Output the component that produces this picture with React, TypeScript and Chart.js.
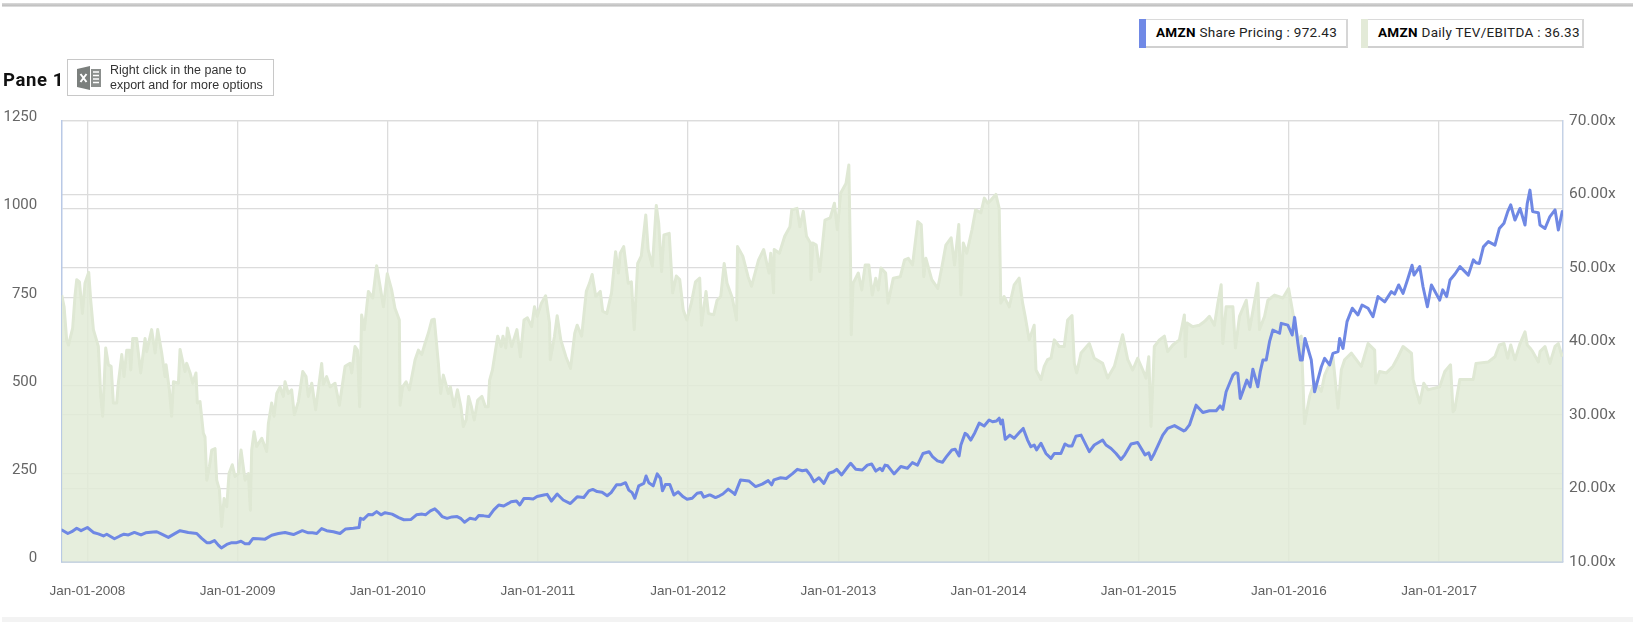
import React, { useEffect, useRef } from "react";
import { Chart, registerables } from "chart.js";

Chart.register(...registerables);

const yearTicks = [2008, 2009, 2010, 2011, 2012, 2013, 2014, 2015, 2016, 2017];
const priceTicks = [0, 250, 500, 750, 1000, 1250];
const multipleTicks = [10, 20, 30, 40, 50, 60, 70];

const priceYears = [
  2007.83, 2007.87, 2007.896, 2007.929, 2007.958, 2008.0, 2008.04, 2008.073, 2008.107, 2008.129, 2008.18, 2008.217, 2008.244, 2008.273, 2008.313, 2008.357, 2008.388, 2008.439, 2008.462, 2008.495, 2008.539, 2008.579, 2008.617, 2008.672, 2008.728, 2008.761, 2008.795, 2008.817, 2008.846, 2008.872, 2008.892, 2008.928, 2008.961, 2008.994, 2009.023, 2009.05, 2009.076, 2009.103, 2009.139, 2009.183, 2009.227, 2009.272, 2009.316, 2009.372, 2009.431, 2009.471, 2009.498, 2009.527, 2009.56, 2009.593, 2009.638, 2009.682, 2009.72, 2009.771, 2009.809, 2009.818, 2009.838, 2009.871, 2009.898, 2009.926, 2009.955, 2009.982,
  2010.029, 2010.073, 2010.107, 2010.155, 2010.191, 2010.229, 2010.251, 2010.284, 2010.313, 2010.34, 2010.362, 2010.395, 2010.428, 2010.462, 2010.488, 2010.511, 2010.546, 2010.584, 2010.606, 2010.639, 2010.673, 2010.706, 2010.739, 2010.772, 2010.806, 2010.821, 2010.857, 2010.879, 2010.906, 2010.939, 2010.968, 2010.994, 2011.039, 2011.061, 2011.09, 2011.128, 2011.168, 2011.216, 2011.261, 2011.305, 2011.339, 2011.365, 2011.394, 2011.427, 2011.461, 2011.487, 2011.523, 2011.549, 2011.583, 2011.605, 2011.627, 2011.645, 2011.671, 2011.705, 2011.72, 2011.738, 2011.767, 2011.794, 2011.816, 2011.829, 2011.849, 2011.878, 2011.905, 2011.933, 2011.967, 2011.993, 2012.027, 2012.06, 2012.087, 2012.104, 2012.138,
  2012.149, 2012.182, 2012.209, 2012.231, 2012.267, 2012.304, 2012.311, 2012.349, 2012.404, 2012.449, 2012.493, 2012.533, 2012.556, 2012.571, 2012.616, 2012.653, 2012.693, 2012.727, 2012.76, 2012.787, 2012.816, 2012.838, 2012.871, 2012.904, 2012.938, 2012.967, 2012.989, 2013.022, 2013.064, 2013.082, 2013.116, 2013.16, 2013.193, 2013.222, 2013.249, 2013.278, 2013.293, 2013.311, 2013.329, 2013.371, 2013.416, 2013.46, 2013.493, 2013.527, 2013.564, 2013.604, 2013.627, 2013.66, 2013.693, 2013.72, 2013.756, 2013.778, 2013.804, 2013.816, 2013.844, 2013.856, 2013.882, 2013.909, 2013.938, 2013.971, 2014.004, 2014.027, 2014.053, 2014.071, 2014.082, 2014.093, 2014.111, 2014.142, 2014.171, 2014.211, 2014.231,
  2014.26, 2014.282, 2014.304, 2014.32, 2014.349, 2014.382, 2014.416, 2014.438, 2014.482, 2014.509, 2014.533, 2014.556, 2014.582, 2014.616, 2014.671, 2014.704, 2014.76, 2014.782, 2014.816, 2014.849, 2014.882, 2014.907, 2014.949, 2014.993, 2015.042, 2015.067, 2015.082, 2015.104, 2015.16, 2015.193, 2015.238, 2015.3, 2015.311, 2015.338, 2015.382, 2015.427, 2015.471, 2015.516, 2015.542, 2015.56, 2015.582, 2015.627, 2015.644, 2015.66, 2015.676, 2015.72, 2015.742, 2015.76, 2015.793, 2015.809, 2015.827, 2015.849, 2015.871, 2015.893, 2015.938, 2015.949, 2015.993, 2016.022, 2016.038, 2016.06, 2016.076, 2016.089, 2016.107, 2016.149, 2016.171, 2016.216, 2016.238, 2016.271, 2016.293, 2016.327, 2016.338, 2016.36, 2016.387, 2016.422, 2016.46, 2016.487, 2016.527, 2016.56, 2016.593, 2016.638, 2016.682, 2016.704, 2016.731, 2016.76, 2016.793, 2016.82, 2016.833, 2016.871, 2016.893, 2016.922, 2016.949, 2017.004,
  2017.024, 2017.05, 2017.073, 2017.106, 2017.139, 2017.195, 2017.228, 2017.246, 2017.268, 2017.295, 2017.328, 2017.372, 2017.401, 2017.432, 2017.457, 2017.477, 2017.505, 2017.539, 2017.572, 2017.587, 2017.605, 2017.623, 2017.661, 2017.672, 2017.705, 2017.738, 2017.772, 2017.794, 2017.82,
];

const priceValues = [
  90, 80, 85, 95, 88, 97, 83, 79, 73, 78, 65, 73, 78, 76, 83, 76, 82, 84, 85, 78, 69, 79, 88, 83, 80, 66, 54, 54, 60, 47, 39, 49, 54, 54, 58, 51, 51, 66, 65, 64, 75, 80, 83, 77, 88, 82, 82, 80, 94, 88, 85, 80, 93, 95, 97, 123, 120, 134, 133, 142, 133, 139,
  135, 125, 119, 120, 133, 135, 133, 144, 150, 139, 128, 123, 127, 128, 122, 112, 123, 120, 131, 130, 128, 147, 161, 158, 166, 170, 172, 161, 179, 179, 178, 185, 189, 191, 172, 192, 175, 165, 184, 182, 201, 205, 199, 197, 187, 196, 218, 218, 224, 203, 196, 180, 215, 222, 243, 224, 215, 249, 236, 201, 219, 219, 189, 198, 184, 177, 180, 194, 196, 183, 189,
  189, 182, 187, 192, 206, 194, 191, 232, 229, 213, 220, 230, 218, 232, 238, 236, 249, 262, 258, 260, 244, 227, 238, 222, 251, 255, 262, 246, 270, 279, 262, 260, 274, 277, 257, 265, 258, 274, 272, 249, 270, 265, 281, 274, 307, 312, 298, 286, 282, 298, 317, 319, 300, 331, 364, 361, 345, 366, 393, 385, 402, 397, 399, 407, 391, 402, 347, 359, 350, 369, 378, 345, 326,
  331, 317, 336, 307, 293, 307, 307, 334, 328, 328, 356, 359, 312, 331, 345, 331, 321, 307, 290, 303, 334, 338, 303, 309, 290, 307, 359, 378, 386, 371, 373, 388, 444, 423, 428, 428, 442, 432, 482, 529, 536, 534, 463, 515, 496, 546, 496, 539, 572, 572, 624, 657, 648, 676, 671, 643, 693, 619, 572, 572, 633, 572, 482, 553, 577, 558, 591, 596, 633, 605, 681, 719, 700, 728, 719, 695, 752, 737, 766, 759, 785, 761, 804, 841, 813, 837, 780, 723, 785, 742, 771, 752,
  799, 816, 837, 813, 856, 848, 846, 893, 908, 898, 945, 960, 993, 1012, 969, 1002, 955, 1016, 1054, 993, 990, 955, 945, 979, 998, 941, 993, 1009, 972,
];

const multipleYears = [
  2007.829, 2007.845, 2007.862, 2007.874, 2007.902, 2007.918, 2007.929, 2007.947, 2007.967, 2007.984, 2008.009, 2008.022, 2008.04, 2008.073, 2008.089, 2008.102, 2008.122, 2008.14, 2008.158, 2008.173, 2008.195, 2008.206, 2008.229, 2008.244, 2008.262, 2008.28, 2008.289, 2008.302, 2008.328, 2008.355, 2008.384, 2008.395, 2008.428, 2008.451, 2008.468, 2008.495, 2008.517, 2008.524, 2008.546, 2008.561, 2008.573, 2008.606, 2008.617, 2008.632, 2008.65, 2008.661, 2008.684, 2008.701, 2008.723, 2008.732, 2008.75, 2008.772, 2008.783, 2008.795, 2008.812, 2008.828, 2008.85, 2008.861, 2008.879, 2008.894, 2008.91, 2008.928, 2008.943, 2008.965, 2008.983,
  2009.005, 2009.023, 2009.05, 2009.072, 2009.085, 2009.094, 2009.11, 2009.127, 2009.161, 2009.194, 2009.205, 2009.227, 2009.243, 2009.261, 2009.283, 2009.305, 2009.316, 2009.338, 2009.36, 2009.378, 2009.405, 2009.434, 2009.456, 2009.471, 2009.494, 2009.52, 2009.56, 2009.571, 2009.593, 2009.616, 2009.649, 2009.678, 2009.716, 2009.749, 2009.76, 2009.782, 2009.798, 2009.813, 2009.826, 2009.844, 2009.871, 2009.9, 2009.926, 2009.949, 2009.971, 2009.997,
  2010.026, 2010.048, 2010.077, 2010.082, 2010.099, 2010.122, 2010.144, 2010.182, 2010.204, 2010.226, 2010.248, 2010.27, 2010.293, 2010.31, 2010.337, 2010.352, 2010.37, 2010.404, 2010.417, 2010.441, 2010.464, 2010.487, 2010.503, 2010.522, 2010.538, 2010.557, 2010.576, 2010.599, 2010.627, 2010.65, 2010.669, 2010.678, 2010.697, 2010.732, 2010.755, 2010.767, 2010.786, 2010.797, 2010.825, 2010.86, 2010.883, 2010.907, 2010.93, 2010.958, 2010.977, 2010.995,
  2011.023, 2011.051, 2011.077, 2011.082, 2011.11, 2011.128, 2011.152, 2011.186, 2011.217, 2011.245, 2011.261, 2011.291, 2011.322, 2011.343, 2011.361, 2011.385, 2011.415, 2011.431, 2011.459, 2011.49, 2011.517, 2011.536, 2011.548, 2011.571, 2011.601, 2011.622, 2011.641, 2011.664, 2011.688, 2011.718, 2011.734, 2011.762, 2011.788, 2011.804, 2011.823, 2011.839, 2011.874, 2011.897, 2011.921, 2011.944, 2011.967, 2011.991,
  2012.021, 2012.049, 2012.077, 2012.089, 2012.119, 2012.135, 2012.17, 2012.193, 2012.217, 2012.24, 2012.259, 2012.294, 2012.322, 2012.329, 2012.364, 2012.399, 2012.422, 2012.469, 2012.503, 2012.538, 2012.55, 2012.569, 2012.573, 2012.608, 2012.643, 2012.678, 2012.69, 2012.725, 2012.744, 2012.767, 2012.788, 2012.814, 2012.818, 2012.83, 2012.853, 2012.876, 2012.911, 2012.946, 2012.974, 2012.993,
  2013.016, 2013.051, 2013.07, 2013.082, 2013.086, 2013.098, 2013.133, 2013.156, 2013.179, 2013.203, 2013.226, 2013.249, 2013.266, 2013.284, 2013.315, 2013.331, 2013.366, 2013.413, 2013.441, 2013.466, 2013.494, 2013.529, 2013.552, 2013.569, 2013.583, 2013.622, 2013.662, 2013.692, 2013.716, 2013.751, 2013.774, 2013.802, 2013.816, 2013.832, 2013.855, 2013.89, 2013.914, 2013.949, 2013.972, 2013.995,
  2014.019, 2014.049, 2014.071, 2014.082, 2014.104, 2014.138, 2014.171, 2014.204, 2014.227, 2014.244, 2014.271, 2014.304, 2014.316, 2014.349, 2014.371, 2014.393, 2014.416, 2014.438, 2014.471, 2014.504, 2014.527, 2014.556, 2014.571, 2014.587, 2014.616, 2014.671, 2014.704, 2014.76, 2014.793, 2014.838, 2014.893, 2014.927, 2014.96, 2014.993,
  2015.027, 2015.049, 2015.067, 2015.082, 2015.104, 2015.138, 2015.171, 2015.193, 2015.227, 2015.271, 2015.304, 2015.311, 2015.322, 2015.36, 2015.404, 2015.438, 2015.471, 2015.504, 2015.527, 2015.549, 2015.56, 2015.582, 2015.627, 2015.644, 2015.671, 2015.716, 2015.738, 2015.793, 2015.804, 2015.838, 2015.86, 2015.904, 2015.96, 2015.998,
  2016.027, 2016.06, 2016.082, 2016.104, 2016.138, 2016.171, 2016.216, 2016.238, 2016.293, 2016.327, 2016.349, 2016.371, 2016.416, 2016.482, 2016.527, 2016.571, 2016.578, 2016.604, 2016.649, 2016.693, 2016.727, 2016.76, 2016.816, 2016.827, 2016.871, 2016.898, 2016.927,
  2017.004, 2017.038, 2017.076, 2017.093, 2017.104, 2017.138, 2017.227, 2017.246, 2017.328, 2017.372, 2017.401, 2017.432, 2017.457, 2017.477, 2017.505, 2017.539, 2017.572, 2017.587, 2017.605, 2017.623, 2017.661, 2017.672, 2017.705, 2017.738, 2017.772, 2017.794, 2017.82,
];

const multipleValues = [
  46.3, 44.7, 40.2, 39.5, 41.8, 46.3, 48.4, 48.1, 43.8, 47.9, 49.4, 45.6, 41.6, 39.3, 32.5, 29.8, 39.1, 36.8, 36.6, 31.6, 31.6, 34.3, 38.2, 35.2, 38.8, 38.8, 36.1, 40.4, 40.4, 35.7, 40.4, 38.6, 41.6, 38.4, 41.6, 38.4, 35.2, 36.8, 33.4, 29.8, 34.5, 34.3, 38.9, 37.5, 35.9, 37.0, 35.7, 34.3, 35.7, 31.6, 31.8, 27.5, 27.0, 21.1, 22.9, 25.2, 25.4, 21.1, 19.8, 14.8, 18.6, 17.5, 22.0, 23.2, 21.6,
  22.0, 25.2, 21.1, 22.0, 17.0, 25.2, 27.7, 25.7, 26.8, 25.0, 28.8, 31.6, 29.8, 32.9, 33.8, 32.5, 34.5, 32.9, 33.4, 30.0, 31.8, 35.9, 35.2, 32.5, 34.3, 30.7, 37.0, 34.1, 35.2, 33.8, 34.3, 31.3, 36.6, 37.0, 35.7, 39.3, 38.8, 31.1, 43.6, 41.6, 46.8, 45.9, 50.3, 47.5, 44.7, 49.2,
  47.0, 44.5, 42.9, 31.3, 33.8, 34.5, 33.4, 37.5, 38.8, 38.2, 39.7, 41.1, 42.9, 43.0, 37.0, 32.9, 35.4, 32.9, 33.8, 31.1, 33.4, 31.1, 28.4, 29.3, 32.5, 31.1, 29.3, 32.0, 32.5, 31.1, 31.1, 34.7, 36.1, 40.7, 39.3, 40.7, 39.1, 41.8, 39.3, 41.6, 37.9, 42.9, 43.2, 42.0, 44.7, 43.4,
  45.2, 46.2, 42.5, 37.5, 40.7, 43.5, 40.2, 37.9, 36.3, 41.1, 42.2, 40.7, 46.8, 47.9, 49.1, 46.1, 46.8, 44.1, 43.8, 46.6, 52.2, 49.3, 52.0, 52.9, 47.9, 48.1, 41.6, 50.6, 51.6, 57.2, 52.5, 50.2, 58.5, 56.1, 49.5, 54.5, 54.7, 46.6, 48.9, 48.4, 44.3, 42.9,
  45.2, 48.1, 48.6, 42.2, 46.8, 43.8, 43.6, 45.6, 46.1, 50.6, 47.9, 45.9, 42.9, 52.9, 51.6, 48.8, 47.5, 51.1, 52.5, 49.3, 52.0, 46.6, 52.5, 52.0, 54.3, 55.6, 57.9, 58.1, 55.6, 57.7, 54.3, 53.4, 48.4, 53.4, 53.1, 49.5, 56.5, 56.8, 58.8, 55.2,
  60.2, 61.5, 64.0, 49.7, 40.9, 47.9, 49.3, 47.0, 50.4, 50.4, 46.3, 48.6, 47.0, 50.0, 49.3, 45.2, 48.6, 48.8, 51.1, 51.3, 50.4, 56.3, 55.9, 48.8, 51.3, 48.4, 47.2, 50.4, 53.1, 54.1, 50.4, 55.9, 46.3, 53.4, 52.0, 55.2, 57.9, 57.5, 59.5, 58.8,
  59.3, 60.0, 58.1, 45.2, 46.1, 44.7, 47.7, 48.6, 45.2, 43.4, 40.2, 42.2, 36.1, 34.8, 36.6, 37.5, 37.7, 40.2, 39.3, 39.3, 42.9, 43.5, 37.0, 35.7, 38.4, 39.7, 37.7, 37.0, 35.0, 36.6, 40.9, 37.5, 36.1, 37.7,
  36.1, 35.0, 37.9, 28.4, 39.3, 40.2, 40.7, 38.6, 39.5, 40.2, 43.6, 37.9, 42.5, 42.0, 42.2, 42.7, 43.4, 42.2, 45.2, 47.7, 39.7, 44.7, 44.7, 39.1, 43.4, 45.6, 41.6, 47.9, 41.6, 43.4, 45.6, 46.3, 45.9, 47.2,
  43.8, 40.2, 40.7, 28.8, 32.5, 34.5, 33.2, 35.4, 37.9, 30.9, 36.1, 37.5, 38.4, 36.6, 39.7, 38.8, 34.3, 35.9, 35.7, 36.6, 37.9, 39.3, 38.4, 34.8, 31.6, 34.3, 33.4,
  33.8, 35.9, 36.8, 30.4, 30.7, 34.8, 34.8, 37.0, 37.2, 37.9, 39.5, 39.7, 37.7, 39.5, 37.5, 39.7, 41.3, 39.5, 39.1, 38.6, 37.2, 38.6, 39.3, 37.0, 39.3, 39.7, 37.9,
];

const toPoints = (xs: number[], ys: number[]) => xs.map((x, i) => ({ x, y: ys[i] }));

const abs = (s: React.CSSProperties): React.CSSProperties => ({ position: "absolute", boxSizing: "border-box", ...s });

function LegendBox(props: { left: number; width: number; color: string; name: string; value: string }) {
  return (
    <div
      style={abs({
        left: props.left,
        top: 19,
        width: props.width,
        height: 29,
        background: "#fff",
        border: "1px solid #dadada",
        borderBottom: "2px solid #d0d0d0",
        borderRight: "2px solid #d6d6d6",
        fontFamily: "Roboto, sans-serif",
        fontSize: 13.5,
        letterSpacing: 0.3,
        lineHeight: "25px",
        color: "#222",
        whiteSpace: "nowrap",
        paddingLeft: 16,
      })}
    >
      <div style={abs({ left: -1, top: -1, width: 7, height: 29, background: props.color })} />
      <b style={{ color: "#000" }}>AMZN</b> {props.name} : {props.value}
    </div>
  );
}

export default function App() {
  const ref = useRef<HTMLCanvasElement>(null);

  useEffect(() => {
    document.body.style.margin = "0";
    const chart = new Chart(ref.current!, {
      type: "line",
      data: {
        datasets: [
          {
            label: "AMZN Share Pricing",
            data: toPoints(priceYears, priceValues),
            yAxisID: "yPrice",
            borderColor: "#6f88e4",
            borderWidth: 3,
            borderJoinStyle: "round",
            borderCapStyle: "round",
            pointRadius: 0,
            fill: false,
            tension: 0,
            order: 1,
          },
          {
            label: "AMZN Daily TEV/EBITDA",
            data: toPoints(multipleYears, multipleValues),
            yAxisID: "yMultiple",
            borderColor: "rgba(223,232,212,1)",
            backgroundColor: "rgba(225,235,215,0.84)",
            borderWidth: 3,
            borderJoinStyle: "round",
            pointRadius: 0,
            fill: "start",
            tension: 0,
            order: 2,
          },
        ],
      },
      options: {
        responsive: false,
        animation: false,
        layout: { padding: { top: 121, left: 0, right: 0, bottom: 0 } },
        plugins: { legend: { display: false }, tooltip: { enabled: false } },
        scales: {
          x: {
            type: "linear",
            min: 2007.829,
            max: 2017.825,
            afterBuildTicks: (axis: any) => {
              axis.ticks = yearTicks.map((value) => ({ value }));
            },
            afterFit: (axis: any) => {
              axis.height = 68.3;
            },
            grid: { color: "#dcdcdc", lineWidth: 1.3, drawTicks: false },
            border: { color: "#c9d5e2", width: 2 },
            ticks: {
              padding: 21,
              autoSkip: false,
              maxRotation: 0,
              color: "#5f5f5f",
              font: { family: "'Liberation Sans', Arial, sans-serif", size: 13.5 },
              callback: (v: any) => `Jan-01-${v}`,
            },
          },
          yPrice: {
            type: "linear",
            position: "left",
            min: 0,
            max: 1250,
            afterBuildTicks: (axis: any) => {
              axis.ticks = priceTicks.map((value) => ({ value }));
            },
            afterFit: (axis: any) => {
              axis.width = 61.7;
            },
            grid: { color: "#dcdcdc", lineWidth: 1.3, drawTicks: false },
            border: { color: "#b9c9e6", width: 1.5 },
            ticks: {
              padding: 24.5,
              color: "#666",
              font: { family: "Roboto, sans-serif", size: 15, lineHeight: "7px" },
              callback: (v: any) => [String(v), ""],
            },
          },
          yMultiple: {
            type: "linear",
            position: "right",
            min: 10,
            max: 70,
            afterBuildTicks: (axis: any) => {
              axis.ticks = multipleTicks.map((value) => ({ value }));
            },
            afterFit: (axis: any) => {
              axis.width = 70;
            },
            grid: { color: "#dcdcdc", lineWidth: 1.3, drawTicks: false },
            border: { color: "#c5d2e6", width: 1.5 },
            ticks: {
              padding: 6,
              color: "#666",
              font: { family: "Roboto, sans-serif", size: 15.5 },
              callback: (v: any) => `${Number(v).toFixed(2)}x`,
            },
          },
        },
      },
    } as any);
    return () => chart.destroy();
  }, []);

  return (
    <div style={abs({ left: 0, top: 0, width: 1633, height: 630, overflow: "hidden", background: "#fff" })}>
      <canvas ref={ref} width={1633} height={630} style={{ position: "absolute", left: 0, top: 0, width: 1633, height: 630 }} />
      <div style={abs({ left: 2, top: 3, width: 1631, height: 4, background: "linear-gradient(#dcdcdc,#c0c0c0 60%,#e8e8e8)" })} />
      <div style={abs({ left: 2, top: 617, width: 1631, height: 5, background: "#f3f3f3" })} />
      <LegendBox left={1139} width={209} color="#7089e6" name="Share Pricing" value="972.43" />
      <LegendBox left={1361} width={223} color="#e3ead8" name="Daily TEV/EBITDA" value="36.33" />
      <div
        style={abs({
          left: 3,
          top: 68,
          fontFamily: "Roboto, sans-serif",
          fontWeight: 700,
          fontSize: 18.5,
          letterSpacing: 0.6,
          lineHeight: "24px",
          color: "#111",
          whiteSpace: "nowrap",
        })}
      >
        Pane 1
      </div>
      <div style={abs({ left: 67, top: 59, width: 207, height: 37, border: "1px solid #c8c8c8", background: "#fff" })}>
        <svg width={24} height={24} viewBox="0 0 24 24" style={{ position: "absolute", left: 9, top: 6 }}>
          <path d="M0 3 L13 0 V24 L0 21 Z" fill="#7b7f7d" />
          <rect x={14} y={3} width={10} height={18} fill="#8b8f8d" />
          <path d="M16 6h6M16 9.5h6M16 13h6M16 16.5h6" stroke="#fff" strokeWidth={1.4} />
          <path d="M3.5 8 L9.5 16 M9.5 8 L3.5 16" stroke="#fff" strokeWidth={2} />
        </svg>
        <div
          style={abs({
            left: 42,
            top: 3,
            fontFamily: "'Liberation Sans', Arial, sans-serif",
            fontSize: 12.5,
            lineHeight: "14.5px",
            color: "#333",
            whiteSpace: "nowrap",
          })}
        >
          Right click in the pane to
          <br />
          export and for more options
        </div>
      </div>
    </div>
  );
}
